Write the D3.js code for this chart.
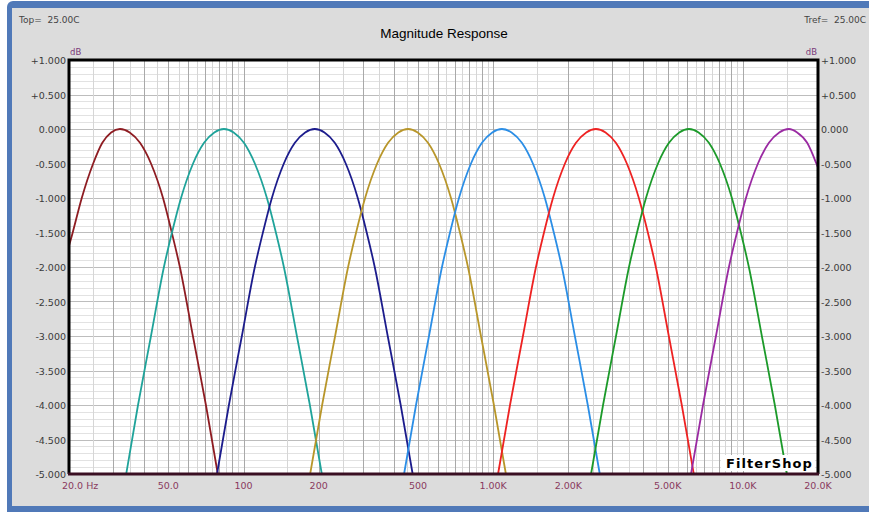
<!DOCTYPE html>
<html><head><meta charset="utf-8">
<script src="https://cdn.jsdelivr.net/npm/d3@7"></script>
<style>html,body{margin:0;padding:0;background:#fff;}svg{display:block;}</style>
</head><body>
<svg id="chart" width="869" height="512"></svg>
<script>
// ---------- data ----------
const seriesNames = ["b1","b2","b3","b4","b5","b6","b7","b8"];
const seriesColors = ["#8e1c22","#1fa39a","#1c1c8c","#b8962a","#2b8ee6","#ee2222","#1c9a2a","#9a2aa2"];
const dbLevels = [-5,-4,-3,-2,-1.5,-1,-0.5,-0.2,-0.05,0,-0.05,-0.2,-0.5,-1,-1.5,-2,-3,-4,-5];
// frequencies (Hz) at each level of dbLevels, per band
const band1 = [13.5,15.2,16.9,19.0,20.7,22.5,25.0,27.2,29.5,32.0,35.0,38.5,42.6,47.6,51.6,55.6,62.7,70.7,78.9];
const band2 = [33.9,37.8,42.6,48.0,51.7,56.2,62.8,69.5,76.4,83.5,91.3,100.4,111.0,124.1,134.8,145.1,163.6,184.4,205.9];
const band3 = [78.3,87.4,98.5,111.0,119.6,129.9,145.1,160.6,176.6,193,211.0,232.0,256.7,286.8,311.5,335.4,378.1,426.1,475.9];
const band4 = [184.9,206.5,232.8,262.4,282.5,306.9,342.9,379.4,417.2,456,498.4,548.1,606.5,677.6,736.0,792.5,893.3,1006.8,1124.5];
const band5 = [439.6,490.9,553.3,623.7,671.6,729.5,815.0,901.8,991.8,1084,1184.8,1303,1442,1611,1749,1884,2124,2393,2673];
const band6 = [1046,1168,1316,1484,1598,1736,1939,2146,2360,2579,2819,3100,3430,3832,4164,4482,5052,5694,6360];
const band7 = [2466,2755,3105,3500,3768,4093,4573,5060,5565,6082,6648,7311,8089,9038,9816,10571,11915,13429,14998];
const band8 = [6200,6925,7805,8797,9473,10290,11496,12720,13989,15290,16500,18100,19700,22000,23900,25700,29000,32700,36500];
const bands = [band1,band2,band3,band4,band5,band6,band7,band8];
const xTickValues = [20,50,100,200,500,1000,2000,5000,10000,20000];
const xTickLabels = ["20.0 Hz","50.0","100","200","500","1.00K","2.00K","5.00K","10.0K","20.0K"];
const yTickValues = [1,0.5,0,-0.5,-1,-1.5,-2,-2.5,-3,-3.5,-4,-4.5,-5];
const yTickLabels = ["+1.000","+0.500","0.000","-0.500","-1.000","-1.500","-2.000","-2.500","-3.000","-3.500","-4.000","-4.500","-5.000"];

// ---------- layout ----------
const svg = d3.select("#chart");
const L = 69, R = 818, T = 60, B = 474;
const x = d3.scaleLog().domain([20,20000]).range([L,R]);
const y = d3.scaleLinear().domain([-5,1]).range([B,T]);

// frame
svg.append("rect").attr("x",0).attr("y",0).attr("width",869).attr("height",512).attr("fill","#ffffff");
svg.append("rect").attr("x",7).attr("y",1).attr("width",875).attr("height",520).attr("rx",6).attr("fill","#5079b8");
svg.append("rect").attr("x",12).attr("y",8).attr("width",870).attr("height",498).attr("fill","#dcdcdc");

// plot background
svg.append("rect").attr("x",L).attr("y",T).attr("width",R-L).attr("height",B-T).attr("fill","#ffffff");

// grid
const gGrid = svg.append("g");
const hMinor = d3.range(-50,11).map(v=>v/10);
hMinor.forEach(v=>{
  const major = Math.abs(v*2 - Math.round(v*2))<1e-6;
  gGrid.append("line").attr("x1",L).attr("x2",R).attr("y1",Math.round(y(v))+0.5).attr("y2",Math.round(y(v))+0.5)
    .attr("stroke", major ? "#bdbdbd" : "#e2e2e2").attr("stroke-width",1);
});
const vLines = [];
for (let k=1;k<=4;k++){
  const base = Math.pow(10,k), step = 5*Math.pow(10,k-1);
  for (let f=base; f<base*10-1e-9; f+=step){
    if (f>20 && f<20000) vLines.push({f, dark: Math.abs(f/base - Math.round(f/base))<1e-9});
  }
}
vLines.forEach(d=>{
  const px = Math.round(x(d.f))+0.5;
  gGrid.append("line").attr("x1",px).attr("x2",px).attr("y1",T).attr("y2",B)
    .attr("stroke", d.dark ? "#a9a9a9" : "#d6d6d6").attr("stroke-width",1);
});

// curves
svg.append("clipPath").attr("id","clip").append("rect").attr("x",L).attr("y",T).attr("width",R-L).attr("height",B-T+1);
const line = d3.line().x(d=>x(d[0])).y(d=>y(d[1])).curve(d3.curveMonotoneX);
const gCurves = svg.append("g").attr("clip-path","url(#clip)");
bands.forEach((band,i)=>{
  const pts = band.map((f,j)=>[f,dbLevels[j]]);
  gCurves.append("path").attr("d",line(pts)).attr("fill","none").attr("stroke",seriesColors[i]).attr("stroke-width",1.8);
});

// plot border
svg.append("path").attr("d",`M${L},${B}V${T}H${R}V${B}`).attr("fill","none").attr("stroke","#000").attr("stroke-width",3);
svg.append("line").attr("x1",L-1).attr("x2",R+1).attr("y1",B).attr("y2",B).attr("stroke","#3a0f22").attr("stroke-width",3);

// y labels
const font = "'DejaVu Sans', Verdana, sans-serif";
yTickValues.forEach((v,i)=>{
  svg.append("text").attr("x",L-3).attr("y",y(v)+4).attr("text-anchor","end")
    .attr("font-family",font).attr("font-size",9.5).attr("fill","#3a3a3a").text(yTickLabels[i]);
  svg.append("text").attr("x",R+3).attr("y",y(v)+4).attr("text-anchor","start")
    .attr("font-family",font).attr("font-size",9.5).attr("fill","#3a3a3a").text(yTickLabels[i]);
});
// x labels
xTickValues.forEach((v,i)=>{
  const first = i===0;
  svg.append("text").attr("x", first ? L-7 : x(v)).attr("y",B+15)
    .attr("text-anchor", first ? "start" : "middle")
    .attr("font-family",font).attr("font-size",9.5).attr("fill","#8a3a5e").text(xTickLabels[i]);
});
// dB units
svg.append("text").attr("x",L+1).attr("y",T-5).attr("font-family",font).attr("font-size",8.5).attr("fill","#7a3a7a").text("dB");
svg.append("text").attr("x",R-1).attr("y",T-5).attr("text-anchor","end").attr("font-family",font).attr("font-size",8.5).attr("fill","#7a3a7a").text("dB");

// title & header
svg.append("text").attr("x",444).attr("y",38).attr("text-anchor","middle").attr("font-family","'Liberation Sans', Arial, sans-serif").attr("font-size",13.5).attr("fill","#000").text("Magnitude Response");
svg.append("text").attr("x",19).attr("y",23).attr("font-family",font).attr("font-size",9).attr("fill","#444").attr("xml:space","preserve").text("Top=  25.00C");
svg.append("text").attr("x",866).attr("y",23).attr("text-anchor","end").attr("font-family",font).attr("font-size",9).attr("fill","#444").attr("xml:space","preserve").text("Tref=  25.00C");

// logo
svg.append("rect").attr("x",721).attr("y",455).attr("width",94).attr("height",16).attr("fill","#fff");
svg.append("text").attr("x",813).attr("y",468).attr("text-anchor","end").attr("font-family",font).attr("font-weight","bold").attr("font-size",13).attr("letter-spacing",1.1).attr("fill","#000").text("FilterShop");
</script>
</body></html>
